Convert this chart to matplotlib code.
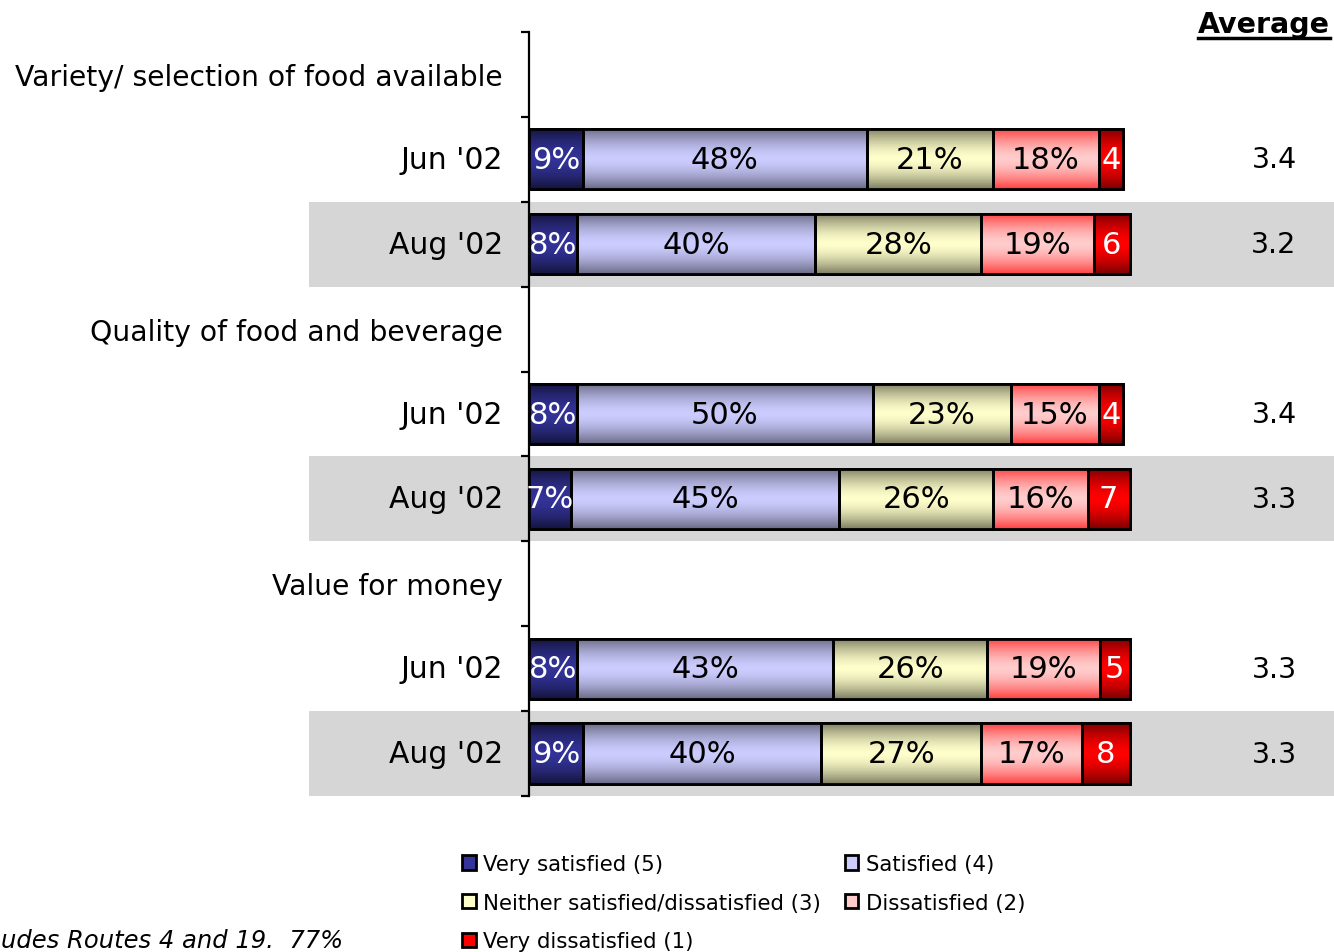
import numpy as np
import matplotlib.pyplot as plt
from matplotlib.colors import to_rgb
from matplotlib.patches import Rectangle
from matplotlib.lines import Line2D

# Data
categories = ['Variety/ selection of food available',
              'Quality of food and beverage',
              'Value for money']
periods = ["Jun '02", "Aug '02"]
series = ['Very satisfied (5)', 'Satisfied (4)',
          'Neither satisfied/dissatisfied (3)', 'Dissatisfied (2)',
          'Very dissatisfied (1)']

# shares, labels as printed on the bars
variety_jun = [9.0, 47.3, 21.0, 17.7, 4.0]
variety_aug = [8.0, 39.7, 27.7, 18.7, 6.0]
quality_jun = [8.0, 49.3, 23.0, 14.7, 4.0]
quality_aug = [7.0, 44.7, 25.7, 15.7, 7.0]
value_jun = [8.0, 42.7, 25.7, 18.7, 5.0]
value_aug = [9.0, 39.7, 26.7, 16.7, 8.0]
shares = [variety_jun, variety_aug, quality_jun, quality_aug, value_jun, value_aug]

bar_labels = [['9%', '48%', '21%', '18%', '4'],
              ['8%', '40%', '28%', '19%', '6'],
              ['8%', '50%', '23%', '15%', '4'],
              ['7%', '45%', '26%', '16%', '7'],
              ['8%', '43%', '26%', '19%', '5'],
              ['9%', '40%', '27%', '17%', '8']]
averages = ['3.4', '3.2', '3.4', '3.3', '3.3', '3.3']
footnote = 'udes Routes 4 and 19.  77%'

# colours: (middle of the bar, top/bottom edge of the bar)
mid_colors = ['#333399', '#ccccff', '#ffffcc', '#ffcccc', '#ff0000']
edge_colors = ['#14143c', '#6a6a86', '#7e7e62', '#ff4040', '#7a0000']
text_colors = ['white', 'black', 'black', 'black', 'white']


def shade(c_mid, c_edge, n=80):
    u = np.linspace(0, 1, n)
    t = np.abs(2 * u - 1) ** 1.6
    mid = np.array(to_rgb(c_mid))
    edge = np.array(to_rgb(c_edge))
    return (mid[None, :] * (1 - t[:, None]) + edge[None, :] * t[:, None])[:, None, :]


W, H = 1334, 953
fig = plt.figure(figsize=(W / 100, H / 100), dpi=100)
ax = fig.add_axes([529 / W, 1 - 797 / H, 600 / W, 764 / H])
px = 100 / 600  # data units per pixel in x

header_slots = [0, 3, 6]
row_slots = [1, 2, 4, 5, 7, 8]
bh = 0.71

# grey bands behind the Aug rows
for k, y in enumerate(row_slots):
    if k % 2 == 1:
        ax.add_patch(Rectangle((-220 * px, y - 0.5), 1025 * px, 1.0,
                               facecolor='#d6d6d6', edgecolor='none',
                               zorder=0.5, clip_on=False))

handles = []
for k, y in enumerate(row_slots):
    left = 0
    for j, w in enumerate(shares[k]):
        bar = ax.barh(y, w, left=left, height=bh, color=mid_colors[j],
                      edgecolor='black', lw=2, zorder=3, label=series[j])
        bar.patches[0].set_clip_on(False)
        if k == 0:
            handles.append(bar.patches[0])
        im = ax.imshow(shade(mid_colors[j], edge_colors[j]),
                       extent=(left, left + w, y + bh / 2, y - bh / 2),
                       aspect='auto', interpolation='bilinear', zorder=3.5)
        im.set_clip_path(bar.patches[0])
        outline = ax.barh(y, w, left=left, height=bh, fill=False,
                          edgecolor='black', lw=2, zorder=4)
        outline.patches[0].set_clip_on(False)
        ax.text(left + w / 2, y, bar_labels[k][j], ha='center', va='center',
                color=text_colors[j], fontsize=22, zorder=5)
        left += w
    ax.text(-26 * px, y, periods[k % 2], ha='right', va='center', fontsize=21.5)
    ax.text((1274 - 529) * px, y, averages[k], ha='center', va='center',
            fontsize=20.5)

for i, y in enumerate(header_slots):
    ax.text(-26 * px, y + 0.03, categories[i], ha='right', va='center',
            fontsize=20.3)

ax.set_xlim(0, 100)
ax.set_ylim(8.5, -0.5)
ax.patch.set_visible(False)
for s in ['top', 'right', 'bottom']:
    ax.spines[s].set_visible(False)
ax.spines['left'].set_linewidth(1.6)
ax.spines['left'].set_zorder(2)
ax.set_xticks([])
ax.set_yticks(np.arange(-0.5, 9, 1))
ax.set_yticklabels([])
ax.tick_params(axis='y', length=6, width=1.6, direction='out')

# Average header, underlined
fig.text(1330 / W, 1 - 33 / H, 'Average', ha='right', va='baseline',
         fontsize=20.5, fontweight='bold')
fig.add_artist(Line2D([1198 / W, 1330 / W], [1 - 39 / H] * 2,
                      transform=fig.transFigure, color='black', lw=2.5))

order = [0, 2, 4, 1, 3]
fig.legend([handles[i] for i in order], [series[i] for i in order],
           loc='upper left', bbox_to_anchor=(462 / W, 1 - 855 / H),
           ncol=2, frameon=False, fontsize=15.3, handlelength=0.65,
           handleheight=0.65, handletextpad=0.35, columnspacing=1.1,
           labelspacing=0.88, borderpad=0, borderaxespad=0)

fig.text(1 / W, 1 - 941 / H, footnote,
         ha='left', va='center', fontsize=17.5, style='italic')

fig.savefig('out.png', dpi=100)
